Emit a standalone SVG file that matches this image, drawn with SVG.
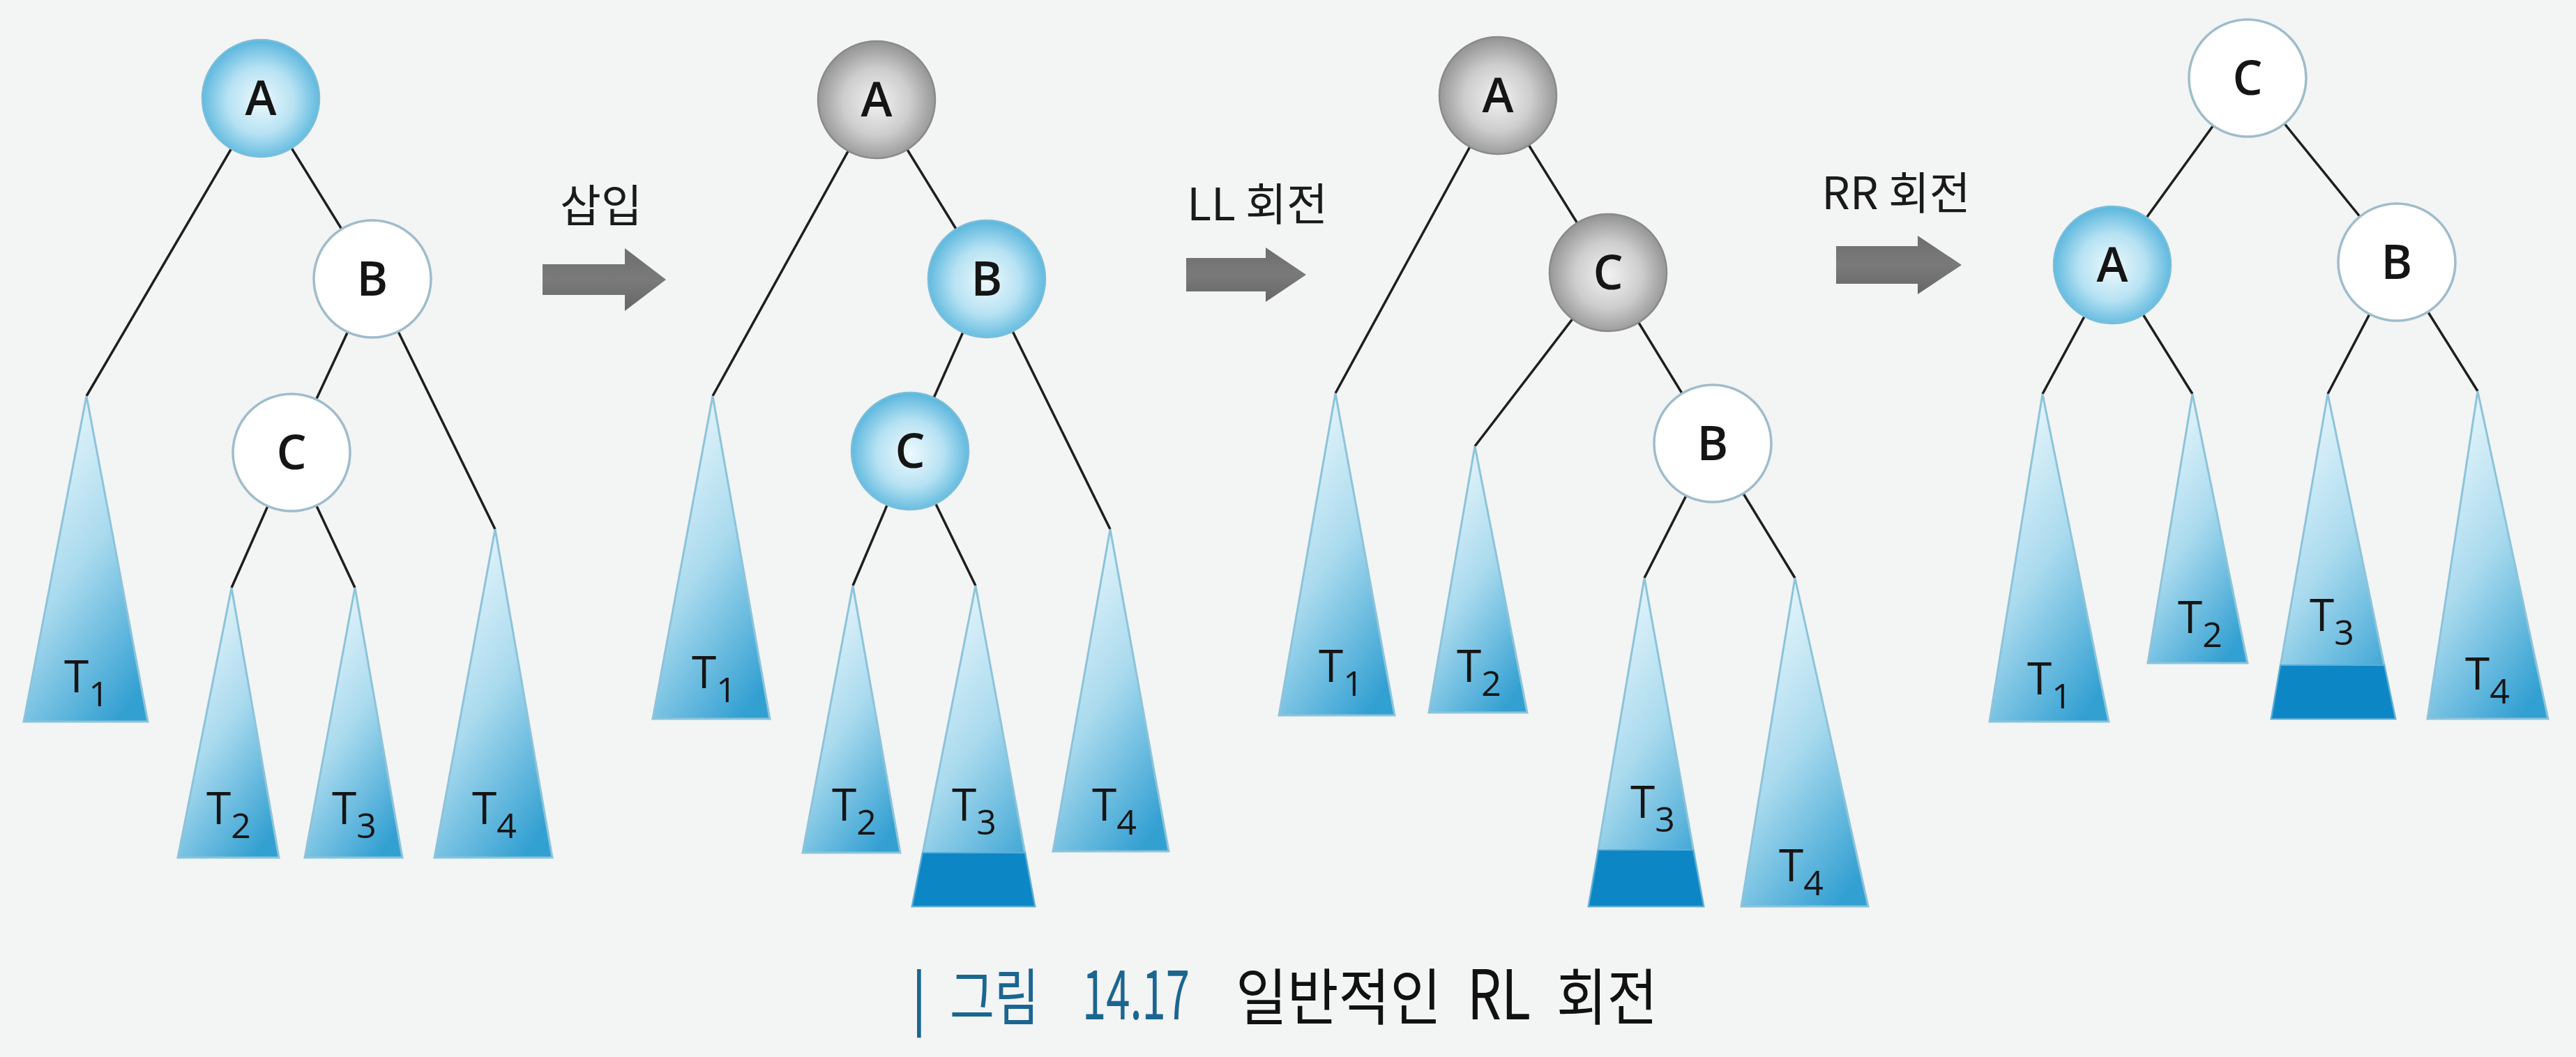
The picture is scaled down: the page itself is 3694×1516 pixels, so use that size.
<svg xmlns="http://www.w3.org/2000/svg" width="3694" height="1516" viewBox="0 0 3694 1516">
<defs>
<radialGradient id="gBlue" cx="50%" cy="52%" r="52%">
<stop offset="0" stop-color="#eef9fd"/><stop offset="0.55" stop-color="#b6e2f3"/><stop offset="1" stop-color="#5ab6dd"/>
</radialGradient>
<radialGradient id="gGray" cx="50%" cy="52%" r="52%">
<stop offset="0" stop-color="#f2f2f2"/><stop offset="0.55" stop-color="#cdcdcd"/><stop offset="1" stop-color="#939393"/>
</radialGradient>
<linearGradient id="gTri" x1="0.25" y1="0" x2="0.75" y2="1">
<stop offset="0" stop-color="#eef9fd"/><stop offset="0.5" stop-color="#a9daee"/><stop offset="1" stop-color="#33a0d2"/>
</linearGradient>
<linearGradient id="gArrow" x1="0" y1="0" x2="0" y2="1">
<stop offset="0" stop-color="#6e6e6e"/><stop offset="0.5" stop-color="#7a7a7a"/><stop offset="1" stop-color="#666"/>
</linearGradient>
<style>
.edge{stroke:#1e1e1e;stroke-width:3.5;fill:none}
.nb{fill:url(#gBlue);stroke:#79bedb;stroke-width:2.5}
.ng{fill:url(#gGray);stroke:#8a8a8a;stroke-width:2.5}
.nw{fill:#ffffff;stroke:#9fbccb;stroke-width:3.5}
.nl{font-family:"Open Sans","Noto Sans",sans-serif;font-size:68px;font-weight:600;fill:#151515;text-anchor:middle}
.tri{fill:url(#gTri);stroke:#8cc4da;stroke-width:3}
.band{fill:#0d86c5;stroke:#5aaed6;stroke-width:2}
.tl{font-family:"Open Sans","Noto Sans",sans-serif;font-size:64px;fill:#151515}
.sub{font-size:50px}
.arrow{fill:url(#gArrow)}
.al{font-family:"Noto Sans CJK KR","Open Sans",sans-serif;font-size:64px;fill:#1a1a1a;text-anchor:middle}
.cap{font-family:"Noto Sans CJK KR",sans-serif;font-size:88px}
.capb{fill:#1b6690}
.capk{fill:#111}
.dig{font-size:98px}
</style>
</defs>
<rect width="3694" height="1516" fill="#f3f4f4"/>

<g id="connectors">
<line class="edge" x1="374" y1="141" x2="124" y2="568"/>
<line class="edge" x1="374" y1="141" x2="534" y2="400"/>
<line class="edge" x1="534" y1="400" x2="418" y2="649"/>
<line class="edge" x1="534" y1="400" x2="710" y2="759"/>
<line class="edge" x1="418" y1="649" x2="332" y2="843"/>
<line class="edge" x1="418" y1="649" x2="509" y2="843"/>
<line class="edge" x1="1257" y1="143" x2="1022" y2="568"/>
<line class="edge" x1="1257" y1="143" x2="1415" y2="400"/>
<line class="edge" x1="1415" y1="400" x2="1305" y2="647"/>
<line class="edge" x1="1415" y1="400" x2="1592" y2="759"/>
<line class="edge" x1="1305" y1="647" x2="1223" y2="840"/>
<line class="edge" x1="1305" y1="647" x2="1399" y2="840"/>
<line class="edge" x1="2148" y1="137" x2="1915" y2="564"/>
<line class="edge" x1="2148" y1="137" x2="2306" y2="391"/>
<line class="edge" x1="2306" y1="391" x2="2115" y2="640"/>
<line class="edge" x1="2306" y1="391" x2="2456" y2="636"/>
<line class="edge" x1="2456" y1="636" x2="2358" y2="829"/>
<line class="edge" x1="2456" y1="636" x2="2574" y2="829"/>
<line class="edge" x1="3223" y1="112" x2="3029" y2="380"/>
<line class="edge" x1="3223" y1="112" x2="3437" y2="376"/>
<line class="edge" x1="3029" y1="380" x2="2929" y2="565"/>
<line class="edge" x1="3029" y1="380" x2="3144" y2="565"/>
<line class="edge" x1="3437" y1="376" x2="3338" y2="565"/>
<line class="edge" x1="3437" y1="376" x2="3553" y2="561"/>
</g>

<g id="t1-A"><circle class="nb" cx="374" cy="141" r="84"/><text class="nl" x="374" y="165">A</text></g>
<g id="t1-B"><circle class="nw" cx="534" cy="400" r="84"/><text class="nl" x="534" y="424">B</text></g>
<g id="t1-C"><circle class="nw" cx="418" cy="649" r="84"/><text class="nl" x="418" y="673">C</text></g>
<g id="t1-T1"><polygon class="tri" points="124,568 212,1035 34,1035"/><text class="tl" x="92" y="993">T<tspan class="sub" dy="20">1</tspan></text></g>
<g id="t1-T2"><polygon class="tri" points="332,843 400,1230 255,1230"/><text class="tl" x="296" y="1182">T<tspan class="sub" dy="20">2</tspan></text></g>
<g id="t1-T3"><polygon class="tri" points="509,843 577,1230 437,1230"/><text class="tl" x="476" y="1182">T<tspan class="sub" dy="20">3</tspan></text></g>
<g id="t1-T4"><polygon class="tri" points="710,759 792,1230 623,1230"/><text class="tl" x="677" y="1182">T<tspan class="sub" dy="20">4</tspan></text></g>

<g id="arrow1"><path class="arrow" d="M778,379 H896 V356 L955,401 L896,446 V423 H778 Z"/><text class="al" x="862" y="318">삽입</text></g>

<g id="t2-A"><circle class="ng" cx="1257" cy="143" r="84"/><text class="nl" x="1257" y="167">A</text></g>
<g id="t2-B"><circle class="nb" cx="1415" cy="400" r="84"/><text class="nl" x="1415" y="424">B</text></g>
<g id="t2-C"><circle class="nb" cx="1305" cy="647" r="84"/><text class="nl" x="1305" y="671">C</text></g>
<g id="t2-T1"><polygon class="tri" points="1022,568 1104,1031 936,1031"/><text class="tl" x="992" y="987">T<tspan class="sub" dy="20">1</tspan></text></g>
<g id="t2-T2"><polygon class="tri" points="1223,840 1291,1223 1151,1223"/><text class="tl" x="1193" y="1177">T<tspan class="sub" dy="20">2</tspan></text></g>
<g id="t2-T3"><polygon class="tri" points="1399,840 1484,1300 1308,1300"/><polygon class="band" points="1323,1223 1470,1223 1484,1300 1308,1300"/><text class="tl" x="1365" y="1177">T<tspan class="sub" dy="20">3</tspan></text></g>
<g id="t2-T4"><polygon class="tri" points="1592,759 1676,1221 1510,1221"/><text class="tl" x="1566" y="1177">T<tspan class="sub" dy="20">4</tspan></text></g>

<g id="arrow2"><path class="arrow" d="M1701,370 H1815 V355 L1873,394 L1815,433 V418 H1701 Z"/><text class="al" x="1803" y="316">LL 회전</text></g>

<g id="t3-A"><circle class="ng" cx="2148" cy="137" r="84"/><text class="nl" x="2148" y="161">A</text></g>
<g id="t3-C"><circle class="ng" cx="2306" cy="391" r="84"/><text class="nl" x="2306" y="415">C</text></g>
<g id="t3-B"><circle class="nw" cx="2456" cy="636" r="84"/><text class="nl" x="2456" y="660">B</text></g>
<g id="t3-T1"><polygon class="tri" points="1915,564 2000,1026 1834,1026"/><text class="tl" x="1891" y="978">T<tspan class="sub" dy="20">1</tspan></text></g>
<g id="t3-T2"><polygon class="tri" points="2115,640 2190,1022 2049,1022"/><text class="tl" x="2089" y="978">T<tspan class="sub" dy="20">2</tspan></text></g>
<g id="t3-T3"><polygon class="tri" points="2358,829 2443,1300 2278,1300"/><polygon class="band" points="2292,1219 2428,1219 2443,1300 2278,1300"/><text class="tl" x="2338" y="1173">T<tspan class="sub" dy="20">3</tspan></text></g>
<g id="t3-T4"><polygon class="tri" points="2574,829 2679,1300 2497,1300"/><text class="tl" x="2551" y="1264">T<tspan class="sub" dy="20">4</tspan></text></g>

<g id="arrow3"><path class="arrow" d="M2633,353 H2750 V338 L2813,380 L2750,422 V407 H2633 Z"/><text class="al" x="2719" y="300">RR 회전</text></g>

<g id="t4-C"><circle class="nw" cx="3223" cy="112" r="84"/><text class="nl" x="3223" y="136">C</text></g>
<g id="t4-A"><circle class="nb" cx="3029" cy="380" r="84"/><text class="nl" x="3029" y="404">A</text></g>
<g id="t4-B"><circle class="nw" cx="3437" cy="376" r="84"/><text class="nl" x="3437" y="400">B</text></g>
<g id="t4-T1"><polygon class="tri" points="2929,565 3024,1035 2853,1035"/><text class="tl" x="2907" y="996">T<tspan class="sub" dy="20">1</tspan></text></g>
<g id="t4-T2"><polygon class="tri" points="3144,565 3223,951 3080,951"/><text class="tl" x="3123" y="908">T<tspan class="sub" dy="20">2</tspan></text></g>
<g id="t4-T3"><polygon class="tri" points="3338,565 3435,1031 3257,1031"/><polygon class="band" points="3270,954 3419,954 3435,1031 3257,1031"/><text class="tl" x="3312" y="905">T<tspan class="sub" dy="20">3</tspan></text></g>
<g id="t4-T4"><polygon class="tri" points="3553,561 3654,1031 3481,1031"/><text class="tl" x="3535" y="989">T<tspan class="sub" dy="20">4</tspan></text></g>

<g id="caption" class="cap">
<text class="capb" x="1306" y="1464">|</text>
<text class="capb" x="1362" y="1462" textLength="128" lengthAdjust="spacingAndGlyphs">그림</text>
<text class="capb dig" x="1552" y="1462" textLength="154" lengthAdjust="spacingAndGlyphs">14.17</text>
<text class="capk" x="1772" y="1462" textLength="295" lengthAdjust="spacingAndGlyphs">일반적인</text>
<text class="capk dig" x="2104" y="1462" textLength="91" lengthAdjust="spacingAndGlyphs">RL</text>
<text class="capk" x="2232" y="1462" textLength="145" lengthAdjust="spacingAndGlyphs">회전</text>
</g>
</svg>
